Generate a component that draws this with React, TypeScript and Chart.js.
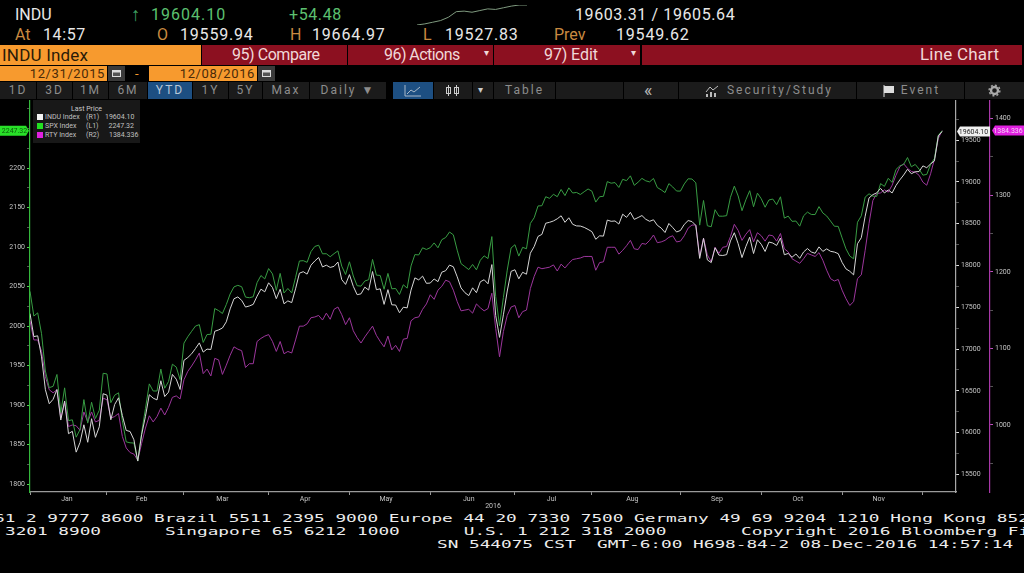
import React, { useEffect, useRef } from "react";
import { Chart, registerables } from "chart.js";
Chart.register(...registerables);

// ---- data (one value per trading session, 12/31/2015 to 12/08/2016) ----
const SPX = [
  2043.9,
  2012.7,2016.7,1990.3,1943.1,1922.0,1923.7,1938.7,1890.3,1921.8,1880.3,1881.3,1859.3,1869.0,1906.9,1877.1,1903.6,1883.0,1893.4,1940.2,
  1939.4,1903.0,1912.5,1915.5,1880.1,1853.4,1852.2,1851.9,1829.1,1864.8,1895.6,1926.8,1917.8,1917.8,1945.5,1921.3,1929.8,1951.7,1948.1,1932.2,
  1978.4,1986.5,1993.4,2000.0,2001.8,1979.3,1989.3,1989.6,2022.2,2019.6,2015.9,2027.2,2040.6,2049.6,2051.6,2049.8,2036.7,2035.9,2037.1,2055.0,2064.0,2059.7,
  2072.8,2066.1,2045.2,2066.7,2041.9,2047.6,2042.0,2061.7,2082.4,2082.8,2080.7,2094.3,2100.8,2102.4,2091.5,2091.6,2087.8,2091.7,2095.2,2075.8,2065.3,
  2081.4,2063.4,2051.1,2050.6,2057.1,2058.7,2084.4,2064.5,2064.1,2046.6,2066.7,2047.2,2047.6,2040.0,2052.3,2048.0,2076.1,2090.5,2090.1,2099.1,2097.0,
  2099.3,2105.3,2099.1,2109.4,2112.1,2119.1,2115.5,2096.1,2079.1,2075.3,2071.5,2078.0,2071.2,2083.3,2088.9,2085.5,2113.3,2037.4,2000.5,2036.1,2070.8,2098.9,
  2103.0,2088.6,2099.7,2097.9,2129.9,2137.2,2152.1,2152.4,2163.8,2161.7,2166.9,2163.8,2173.0,2165.2,2175.0,2168.5,2169.2,2166.6,2170.1,2173.6,
  2170.8,2157.0,2163.8,2164.3,2182.9,2180.9,2181.7,2175.5,2185.8,2184.1,2190.2,2178.2,2182.2,2187.0,2183.9,2182.6,2186.9,2175.4,2172.5,2169.0,2180.4,2176.1,2171.0,
  2170.9,2180.0,2186.5,2186.2,2181.3,2127.8,2159.0,2127.0,2125.8,2147.3,2139.2,2139.1,2139.8,2163.1,2177.2,2164.7,2146.1,2159.9,2171.4,2151.1,2168.3,
  2161.2,2150.5,2159.7,2160.8,2153.7,2163.7,2136.7,2139.2,2132.6,2133.0,2126.5,2139.6,2144.3,2141.3,2141.2,2151.3,2143.2,2139.4,2133.0,2126.4,2126.2,
  2111.7,2097.9,2088.7,2085.2,2131.5,2139.6,2163.3,2167.5,2164.5,2164.2,2180.4,2176.9,2187.1,2181.9,2198.2,2202.9,2204.7,2213.4,2201.7,2204.7,2198.8,
  2191.1,2192.0,2204.7,2212.2,2241.4,2247.32,
];
const INDU = [
  17425,
  17149,17159,16907,16514,16346,16399,16516,16151,16379,15988,16016,15767,15883,16094,15885,16167,15944,16070,16466,
  16449,16154,16337,16417,16205,16027,16014,15915,15660,15974,16196,16454,16413,16392,16621,16432,16485,16697,16640,16517,
  16865,16899,16944,17007,17074,16964,17000,16995,17213,17229,17252,17326,17481,17602,17624,17583,17503,17516,17535,17633,17717,17685,
  17793,17737,17603,17716,17542,17577,17556,17721,17908,17926,17897,18004,18054,18096,17983,18004,17977,17990,18042,17831,17774,
  17891,17751,17651,17661,17741,17706,17928,17711,17721,17535,17711,17530,17527,17435,17501,17493,17706,17852,17828,17873,17787,
  17790,17839,17807,17920,17938,18005,17985,17865,17732,17675,17640,17733,17675,17805,17830,17781,18011,17401,17140,17410,17695,17930,
  17949,17841,17919,17896,18147,18227,18348,18372,18506,18517,18533,18559,18595,18517,18571,18493,18474,18472,18456,18432,
  18405,18314,18355,18352,18544,18529,18533,18496,18614,18576,18636,18552,18574,18598,18553,18529,18547,18481,18448,18395,18503,18454,18401,
  18419,18492,18538,18526,18480,18085,18325,18067,18035,18212,18124,18120,18130,18294,18392,18261,18095,18228,18339,18143,18308,
  18254,18168,18281,18269,18240,18329,18129,18144,18099,18138,18086,18162,18203,18162,18146,18223,18169,18199,18170,18161,18142,
  18037,17960,17931,17888,18260,18333,18590,18808,18848,18869,18923,18868,18904,18868,18957,19024,19083,19152,19098,19122,19124,
  19192,19170,19216,19252,19550,19604.1,
];
const RTY = [
  1135.9,1111,1111,1096,1063,1046,1042,1046,1009,1030,
  998,1000,999,993,1017,1004,1017,1004,1006,1035,
  1033,1009,1011,1015,985,970,964,962,954,976,
  996,1012,1004,1011,1022,1013,1023,1036,1038,1034,
  1059,1070,1077,1085,1094,1067,1073,1064,1087,1085,
  1066,1078,1091,1102,1099,1097,1075,1080,1080,1109,
  1113,1116,1118,1109,1096,1109,1093,1096,1094,1111,
  1129,1129,1132,1140,1141,1143,1137,1146,1138,1151,
  1154,1144,1131,1140,1123,1114,1107,1115,1122,1129,
  1117,1109,1102,1116,1098,1104,1096,1112,1113,1136,
  1140,1141,1151,1158,1170,1164,1176,1181,1189,1187,
  1176,1161,1149,1150,1151,1146,1158,1153,1149,1152,
  1172,1126,1089,1122,1143,1154,1156,1140,1148,1150,
  1178,1194,1206,1204,1205,1206,1209,1201,1210,1205,
  1211,1216,1217,1218,1220,1220,1220,1202,1212,1213,
  1232,1232,1232,1223,1228,1234,1241,1230,1229,1237,
  1236,1241,1248,1238,1239,1241,1245,1247,1239,1240,
  1247,1257,1261,1261,1220,1244,1222,1213,1232,1224,
  1232,1233,1246,1262,1254,1241,1249,1255,1239,1251,
  1247,1240,1248,1247,1240,1250,1230,1226,1217,1214,
  1211,1217,1224,1222,1220,1225,1215,1202,1191,1188,
  1190,1176,1165,1156,1161,1191,1196,1228,1263,1293,
  1302,1303,1307,1304,1313,1326,1337,1341,1335,1331,
  1330,1326,1317,1313,1328,1347,1374,1384.34,
];
const monthNames = ["Jan","Feb","Mar","Apr","May","Jun","Jul","Aug","Sep","Oct","Nov"];
const monthLabelSessions = [9.6,29,50,71.5,92.5,114,135.5,156.5,178.5,199.5,220.5];
const monthStartSessions = [0,20,40,62,83,104,126,146,169,190,211,232];
const sparkline = [19527,19529,19532,19535,19541,19551,19552,19550,19553,19556,19555,19558,19561,19563,19563];
const leftTicks = [1800,1850,1900,1950,2000,2050,2100,2150,2200];
const induTicks = [15500,16000,16500,17000,17500,18000,18500,19000,19500];
const rtyTicks = [1000,1100,1200,1300,1400];

const GREEN = "#389c43", WHITE = "#d6d6d6", MAGENTA = "#9c369c";

const minorTicks = (major: number[], step: number, lo: number, hi: number) => {
  const out: number[] = [];
  for (let v = major[0] - step * 4; v < hi; v += step) if (v > lo) out.push(v);
  return out;
};
const pts = (a: number[]) => a.map((y, x) => ({ x, y }));

const tagPlugin = {
  id: "tags",
  afterDraw(c: any) {
    const ctx = c.ctx;
    const draw = (y: number, x0: number, x1: number, tip: "l" | "r", fill: string, col: string, txt: string) => {
      ctx.save();
      ctx.beginPath();
      if (tip === "r") {
        ctx.moveTo(x0, y - 5); ctx.lineTo(x1 - 3, y - 5); ctx.lineTo(x1, y); ctx.lineTo(x1 - 3, y + 5); ctx.lineTo(x0, y + 5);
      } else {
        ctx.moveTo(x1, y - 5); ctx.lineTo(x0 + 3, y - 5); ctx.lineTo(x0, y); ctx.lineTo(x0 + 3, y + 5); ctx.lineTo(x1, y + 5);
      }
      ctx.closePath();
      ctx.fillStyle = fill;
      ctx.fill();
      ctx.fillStyle = col;
      ctx.font = "7px Roboto";
      ctx.textAlign = "center";
      ctx.textBaseline = "middle";
      ctx.fillText(txt, (x0 + x1) / 2, y + 0.5);
      ctx.restore();
    };
    draw(c.scales.spx.getPixelForValue(SPX[SPX.length - 1]), 0, 29, "r", "#28e028", "#0a5a0a", "2247.32");
    draw(c.scales.indu.getPixelForValue(INDU[INDU.length - 1]), 957, 990, "l", "#f0f0f0", "#222", "19604.10");
    draw(c.scales.rty.getPixelForValue(RTY[RTY.length - 1]), 992, 1024, "l", "#e020e0", "#f8d0f8", "1384.336");
  },
};

const fontFamily = "Roboto, 'Liberation Sans', sans-serif";

function T({ x, y, c = "#e8e8e8", s = 16, ls = 0, children, w, align }: any) {
  return (
    <div style={{ position: "absolute", left: x, top: y, color: c, fontSize: s, letterSpacing: ls, lineHeight: 1, whiteSpace: "pre", width: w, textAlign: align, fontFamily }}>
      {children}
    </div>
  );
}
function Box({ x, y, w, h, bg, children }: any) {
  return <div style={{ position: "absolute", left: x, top: y, width: w, height: h, background: bg }}>{children}</div>;
}
function Btn({ x, w, text, bg = "#1b1b1b", c = "#8d8d8d" }: any) {
  return (
    <div style={{ position: "absolute", left: x, top: 82, width: w, height: 17, background: bg, color: c, fontSize: 12, lineHeight: "17px", letterSpacing: 2, textAlign: "center", fontFamily, whiteSpace: "pre" }}>
      {text}
    </div>
  );
}
function Cal({ x }: any) {
  return (
    <Box x={x} y={66} w={17} h={15} bg="#3a3a3a">
      <svg width={17} height={15}>
        <rect x={4} y={4} width={9} height={7} fill="#ddd" />
        <rect x={5} y={6.5} width={7} height={3.5} fill="#555" />
      </svg>
    </Box>
  );
}
const Foot = ({ x, y, t }: any) => (
  <div style={{ position: "absolute", left: x, top: y, color: "#ececec", fontFamily: "'DejaVu Sans Mono', monospace", fontSize: 10, lineHeight: 1, whiteSpace: "pre", transform: "scaleX(1.772)", transformOrigin: "left top" }}>
    {t}
  </div>
);

export default function App() {
  const ref = useRef<HTMLCanvasElement>(null);
  const sparkRef = useRef<HTMLCanvasElement>(null);
  useEffect(() => {
    document.body.style.margin = "0";
    document.body.style.background = "#000";
    const baseTicks = { color: "#c4c4c4", font: { size: 7, family: "Roboto" }, padding: 2, autoSkip: false, maxRotation: 0 };
    const yAxis = (position: string, min: number, max: number, major: number[], step: number, width: number, border: string, tickCol: string): any => ({
      type: "linear",
      position,
      min,
      max,
      afterBuildTicks: (s: any) => { s.ticks = minorTicks(major, step, min, max).map((value) => ({ value })); },
      afterFit: (s: any) => { s.width = width; },
      ticks: { ...baseTicks, callback: (v: number) => (major.includes(v) ? String(v) : "") },
      grid: {
        drawOnChartArea: false,
        tickLength: 3,
        tickColor: (ctx: any) => (major.includes(ctx.tick?.value) ? tickCol : "#555"),
      },
      border: { display: true, color: border, width: 1.2 },
    });
    const chart = new Chart(ref.current!, {
      type: "line",
      data: {
        datasets: [
          { label: "INDU Index", data: pts(INDU), yAxisID: "indu", borderColor: WHITE, borderWidth: 1, pointRadius: 0, tension: 0 },
          { label: "SPX Index", data: pts(SPX), yAxisID: "spx", borderColor: GREEN, borderWidth: 1, pointRadius: 0, tension: 0 },
          { label: "RTY Index", data: pts(RTY), yAxisID: "rty", borderColor: MAGENTA, borderWidth: 1, pointRadius: 0, tension: 0 },
        ],
      } as any,
      options: {
        animation: false,
        responsive: false,
        events: [],
        layout: { padding: 0 },
        plugins: { legend: { display: false }, tooltip: { enabled: false } },
        scales: {
          x: {
            type: "linear",
            min: 0,
            max: 240.6,
            afterBuildTicks: (s: any) => {
              s.ticks = [...monthStartSessions, ...monthLabelSessions].sort((a, b) => a - b).map((value) => ({ value }));
            },
            afterFit: (s: any) => { s.height = 18; },
            ticks: {
              ...baseTicks,
              padding: 0,
              callback: (v: number) => {
                const i = monthLabelSessions.indexOf(v);
                return i >= 0 ? monthNames[i] : "";
              },
            },
            grid: {
              drawOnChartArea: false,
              tickLength: 3,
              tickColor: (ctx: any) => (monthStartSessions.includes(ctx.tick?.value) ? "#999" : "rgba(0,0,0,0)"),
            },
            border: { display: true, color: "#9a9a9a", width: 1.2 },
            title: { display: true, text: "2016", color: "#c4c4c4", font: { size: 7, family: "Roboto" }, padding: 0 },
          },
          spx: yAxis("left", 1789.9, 2286, leftTicks, 25, 30, "#35b83c", "#4fd04f"),
          indu: yAxis("right", 15290, 19978, induTicks, 250, 34, "#a8a8a8", "#e0e0e0"),
          rty: yAxis("right", 912.5, 1424, rtyTicks, 50, 34, "#a838a8", "#c050c0"),
        } as any,
      },
      plugins: [tagPlugin],
    } as any);
    const spark = new Chart(sparkRef.current!, {
      type: "line",
      data: {
        labels: sparkline.map((_, i) => i),
        datasets: [{ data: sparkline, borderColor: "#7f9a7f", borderWidth: 1, pointRadius: 0 }],
      },
      options: {
        animation: false,
        responsive: false,
        events: [],
        layout: { padding: 0 },
        plugins: { legend: { display: false }, tooltip: { enabled: false } },
        scales: { x: { display: false }, y: { display: false, min: 19527, max: 19563 } },
      },
    } as any);
    return () => { chart.destroy(); spark.destroy(); };
  }, []);

  return (
    <div style={{ position: "absolute", left: 0, top: 0, width: 1024, height: 573, background: "#000", overflow: "hidden", fontFamily }}>
      {/* header rows */}
      <T x={15} y={7} s={16}>INDU</T>
      <T x={131} y={5} s={19} c="#3f9f60">↑</T>
      <T x={151} y={7} s={16} c="#5cc070" ls={1}>19604.10</T>
      <T x={289} y={7} s={16} c="#5cc070" ls={0.6}>+54.48</T>
      <canvas ref={sparkRef} width={110} height={20} style={{ position: "absolute", left: 417, top: 5, width: 110, height: 20 }} />
      <T x={575} y={7} s={16} ls={0.6}>19603.31 / 19605.64</T>
      <T x={15} y={27} s={16} c="#c98a40">At</T>
      <T x={43} y={27} s={16} ls={0.6}>14:57</T>
      <T x={157} y={27} s={16} c="#c98a40">O</T>
      <T x={180} y={27} s={16} ls={0.8}>19559.94</T>
      <T x={290} y={27} s={16} c="#c98a40">H</T>
      <T x={312} y={27} s={16} ls={0.8}>19664.97</T>
      <T x={423} y={27} s={16} c="#c98a40">L</T>
      <T x={445} y={27} s={16} ls={0.8}>19527.83</T>
      <T x={554} y={27} s={16} c="#c98a40">Prev</T>
      <T x={616} y={27} s={16} ls={0.8}>19549.62</T>

      <Box x={0} y={45} w={201} h={20} bg="#f79a2e" />
      <T x={2} y={47} s={17} c="#2a1a08" ls={0.2}>INDU Index</T>
      <Box x={202} y={45} w={145} h={20} bg="#8c1020" />
      <Box x={348} y={45} w={145} h={20} bg="#8c1020" />
      <Box x={494} y={45} w={146} h={20} bg="#8c1020" />
      <Box x={642} y={45} w={380} h={20} bg="#8c1020" />
      <T x={232} y={47} s={16} c="#f0d8d8" ls={-0.45}>95) Compare</T>
      <T x={384} y={47} s={16} c="#f0d8d8" ls={-0.55}>96) Actions</T>
      <T x={484} y={48} s={10} c="#f0d8d8">▾</T>
      <T x={544} y={47} s={16} c="#f0d8d8" ls={-0.1}>97) Edit</T>
      <T x={631} y={48} s={10} c="#f0d8d8">▾</T>
      <T x={920} y={46} s={17} c="#f0d8d8" ls={0.2}>Line Chart</T>

      <Box x={0} y={66} w={107} h={15} bg="#f79a2e" />
      <T x={0} y={67} w={105} align="right" s={13} c="#4a2a08" ls={0.6}>12/31/2015</T>
      <Cal x={108} />
      <T x={135} y={67} s={13} c="#f79a2e">-</T>
      <Box x={149} y={66} w={108} h={15} bg="#f79a2e" />
      <T x={149} y={67} w={106} align="right" s={13} c="#4a2a08" ls={0.6}>12/08/2016</T>
      <Cal x={258} />

      {/* toolbar */}
      <Btn x={0} w={36} text="1D" />
      <Btn x={37} w={35} text="3D" />
      <Btn x={73} w={35} text="1M" />
      <Btn x={109} w={38} text="6M" />
      <Btn x={148} w={44} text="YTD" bg="#1d4f82" c="#b8c8d8" />
      <Btn x={193} w={35} text="1Y" />
      <Btn x={229} w={33} text="5Y" />
      <Btn x={263} w={46} text="Max" />
      <Btn x={310} w={76} text="Daily ▼" />
      <Btn x={393} w={40} text="" bg="#1d4f82" />
      <svg style={{ position: "absolute", left: 404, top: 84 }} width={18} height={13}>
        <polyline points="1,1 1,12 17,12" fill="none" stroke="#a8b8c8" />
        <polyline points="3,10 7,6 10,8 16,3" fill="none" stroke="#a8b8c8" />
      </svg>
      <Btn x={434} w={38} text="" />
      <svg style={{ position: "absolute", left: 445, top: 85 }} width={16} height={11}>
        <rect x={1.5} y={2.5} width={4} height={6} fill="none" stroke="#ccc" />
        <rect x={9.5} y={2.5} width={4} height={6} fill="none" stroke="#ccc" />
        <path d="M3.5 0v11M11.5 0v11" stroke="#ccc" />
      </svg>
      <Btn x={473} w={20} text="" />
      <T x={478} y={85} s={10} c="#ccc">▾</T>
      <Btn x={494} w={61} text="Table" />
      <Btn x={556} w={67} text="" />
      <Btn x={624} w={54} text="" />
      <T x={644} y={81} s={18} c="#b4b4b4">«</T>
      <Btn x={679} w={177} text="     Security/Study" />
      <svg style={{ position: "absolute", left: 705, top: 85 }} width={14} height={12}>
        <polyline points="1,7 5,2 8,5 13,1" fill="none" stroke="#bbb" />
        <rect x={1} y={9} width={2} height={3} fill="#bbb" />
        <rect x={5} y={7} width={2} height={5} fill="#bbb" />
        <rect x={9} y={8} width={2} height={4} fill="#bbb" />
      </svg>
      <Btn x={857} w={107} text="    Event" />
      <svg style={{ position: "absolute", left: 883, top: 85 }} width={12} height={12}>
        <path d="M1 0v12" stroke="#ddd" />
        <path d="M1 1h10v7H1z" fill="#ddd" />
      </svg>
      <Btn x={965} w={59} text="" />
      <svg style={{ position: "absolute", left: 988, top: 84 }} width={13} height={13}>
        <circle cx={6.5} cy={6.5} r={3.5} fill="none" stroke="#aaa" strokeWidth={2.4} />
        <circle cx={6.5} cy={6.5} r={5.4} fill="none" stroke="#aaa" strokeWidth={1.4} strokeDasharray="2 2.2" />
      </svg>

      {/* chart */}
      <canvas ref={ref} width={1024} height={416} style={{ position: "absolute", left: 0, top: 94, width: 1024, height: 416 }} />

      {/* legend */}
      <Box x={33} y={100} w={107} h={43} bg="#181818" />
      <T x={33} y={106} w={107} align="center" s={7} c="#c8c8c8">Last Price</T>
      {[
        ["INDU Index", "(R1)", "19604.10", "#f4f4f4", 114, 105],
        ["SPX Index", "(L1)", "2247.32", "#22e022", 123, 108.5],
        ["RTY Index", "(R2)", "1384.336", "#e020e0", 132, 109],
      ].map(([name, ax, val, col, y, vx]: any) => (
        <React.Fragment key={name}>
          <Box x={37} y={y} w={6} h={6} bg={col} />
          <T x={45} y={y} s={7} c="#c0c0c0">{name}</T>
          <T x={86} y={y} s={7} c="#c0c0c0">{ax}</T>
          <T x={vx} y={y} s={7} c="#c0c0c0">{val}</T>
        </React.Fragment>
      ))}

      {/* footer */}
      <Foot x={-6} y={514} t="61 2 9777 8600 Brazil 5511 2395 9000 Europe 44 20 7330 7500 Germany 49 69 9204 1210 Hong Kong 852" />
      <Foot x={5} y={527} t="3201 8900      Singapore 65 6212 1000      U.S. 1 212 318 2000       Copyright 2016 Bloomberg Fi" />
      <Foot x={437} y={540} t="SN 544075 CST  GMT-6:00 H698-84-2 08-Dec-2016 14:57:14" />
    </div>
  );
}
